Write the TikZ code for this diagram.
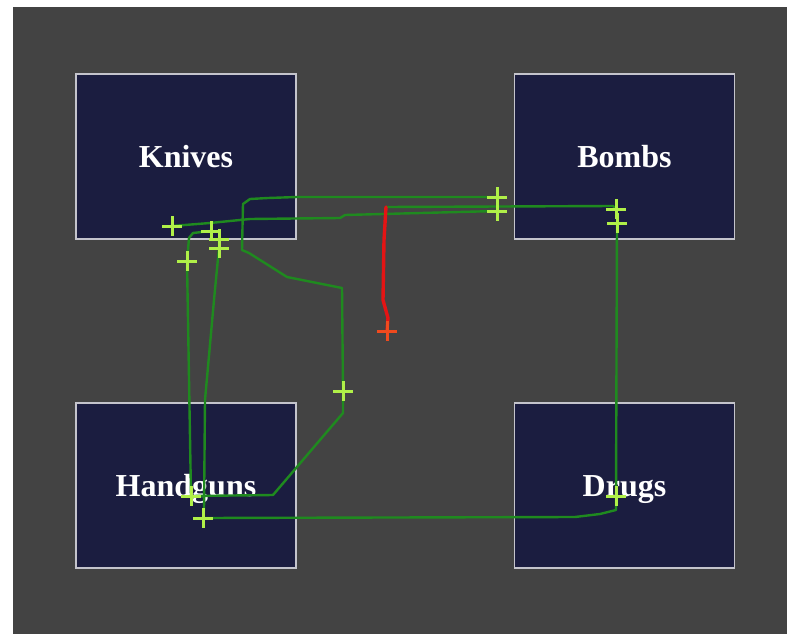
\documentclass[tikz,border=0pt]{standalone}
\usepackage{fontspec}
\setmainfont{Liberation Serif}
\usetikzlibrary{backgrounds}

\definecolor{bgdark}{HTML}{434343}
\definecolor{boxnavy}{HTML}{1B1D40}
\definecolor{boxedge}{HTML}{C4C4CC}
\definecolor{trailgreen}{HTML}{1F8A1F}
\definecolor{hitlime}{HTML}{B0F048}
\definecolor{livered}{HTML}{E41414}
\definecolor{liveorange}{HTML}{F04A1E}

\pgfdeclarelayer{trails}
\pgfsetlayers{background,trails,main}

\begin{document}
\begin{tikzpicture}[
    x=1pt, y=-1pt,
    category/.style={draw=boxedge, line width=1.3pt, fill=boxnavy, minimum width=220pt, minimum height=165pt, inner sep=0pt, text=white, font=\bfseries\fontsize{32}{36}\selectfont, text height=21pt, text depth=0pt},
    hit/.style={inner sep=0pt, minimum size=19pt, append after command={(\tikzlastnode.north) edge[draw=#1, line width=3pt] (\tikzlastnode.south) (\tikzlastnode.west) edge[draw=#1, line width=3pt] (\tikzlastnode.east)}},
    hit/.default=hitlime,
    trail/.style={draw=trailgreen, line width=2.4pt, line join=round},
    live/.style={draw=livered, line width=3.4pt, line join=round, line cap=round}
]
\useasboundingbox (0,0) rectangle (787,634);

% Response boxes
\begin{scope}[on background layer]
  \fill[bgdark] (13,7) rectangle (787,634);
  \node[category] (knives) at (186,156.5) {Knives};
  \node[category] (bombs) at (624.5,156.5) {Bombs};
  \node[category] (handguns) at (186,485.5) {Handguns};
  \node[category] (drugs) at (624.5,485.5) {Drugs};
\end{scope}

% Click marks
\node[hit] (k1) at (172,226) {};
\node[hit] (k2) at (211,231) {};
\node[hit] (k3) at (219,239) {};
\node[hit] (k4) at (219,248) {};
\node[hit] (k5) at (187,261) {};
\node[hit] (b1) at (497,197) {};
\node[hit] (b2) at (497,211) {};
\node[hit] (b3) at (616,209) {};
\node[hit] (b4) at (617,223) {};
\node[hit] (m1) at (343,391) {};
\node[hit] (h1) at (191,496) {};
\node[hit] (h2) at (203,518) {};
\node[hit] (d1) at (616,496) {};
\node[hit=liveorange] (r1) at (387,331) {};
\coordinate (redstart) at (386,207);

% Earlier trajectories
\begin{pgfonlayer}{trails}
  \draw[trail] (b1.center) -- (297,197) -- (268,198) -- (250,199) -- (243,204) -- (242,250) -- (249,253) -- (287,277) -- (342,288) -- (m1.center) -- (343,413) -- (273,495) -- (h1.center);
  \draw[trail] (k1.center) -- (210,223) -- (250,219) -- (340,218) -- (345,215) -- (b2.center);
  \draw[trail] (redstart) -- (613,206) -- (b3.center);
  \draw[trail] (b4.center) -- (d1.center) -- (616,510) -- (600,514) -- (575,517) -- (h2.center);
  \draw[trail] (k2.center) -- (193,233) -- (189,238) -- (k5.center) -- (h1.center);
  \draw[trail] (k3.center) -- (k4.center) -- (214,300) -- (205,400) -- (204,510) -- (h2.center);

  % Current trajectory
  \draw[live] (redstart) -- (384,240) -- (383,300) -- (388,318) -- (r1.center);
\end{pgfonlayer}

\end{tikzpicture}
\end{document}
